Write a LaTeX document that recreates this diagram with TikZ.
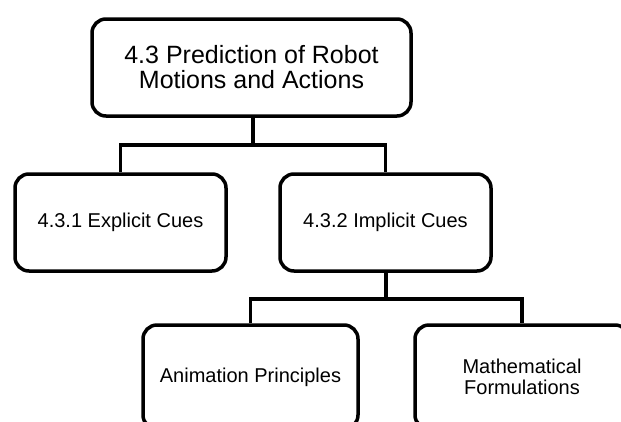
\documentclass[tikz,border=0pt]{standalone}
\usepackage{fontspec}
\setmainfont{Liberation Sans}
\begin{document}
\begin{tikzpicture}[x=1pt, y=-1pt,
  topic/.style={draw=black, line width=3.5pt, rounded corners=14pt,
    minimum height=97pt, align=center, inner sep=0pt,
    font=\fontsize{20}{21}\selectfont},
  link/.style={draw=black, line width=3.5pt, line join=miter}]
  \fill[white] (0,0) rectangle (621,421);
  \useasboundingbox (0,0) rectangle (621,421);

  % tree of topics
  \node[topic, minimum width=319pt, font=\fontsize{25}{25}\selectfont]
    (root) at (251.5,67.5) {4.3 Prediction of Robot\\Motions and Actions};
  \node[topic, minimum width=211pt] (expl) at (120.5,222.5) {4.3.1 Explicit Cues};
  \node[topic, minimum width=211pt] (impl) at (385.5,222.5) {4.3.2 Implicit Cues};
  % the lowest boxes run past the lower edge
  \node[topic, minimum width=215pt, minimum height=104pt] (anim) at (250.5,377) {Animation Principles};
  \node[topic, minimum width=214pt, minimum height=104pt] (math) at (522,377) {Mathematical\\Formulations};

  % branch points
  \coordinate (j1) at (253,145);
  \coordinate (j2) at (386,299);

  \draw[link] (root.south -| j1) -- (j1);
  \draw[link] (expl.north) |- (j1) -| (impl.north);
  \draw[link] (impl.south -| j2) -- (j2);
  \draw[link] (anim.north) |- (j2) -| (math.north);
\end{tikzpicture}
\end{document}
